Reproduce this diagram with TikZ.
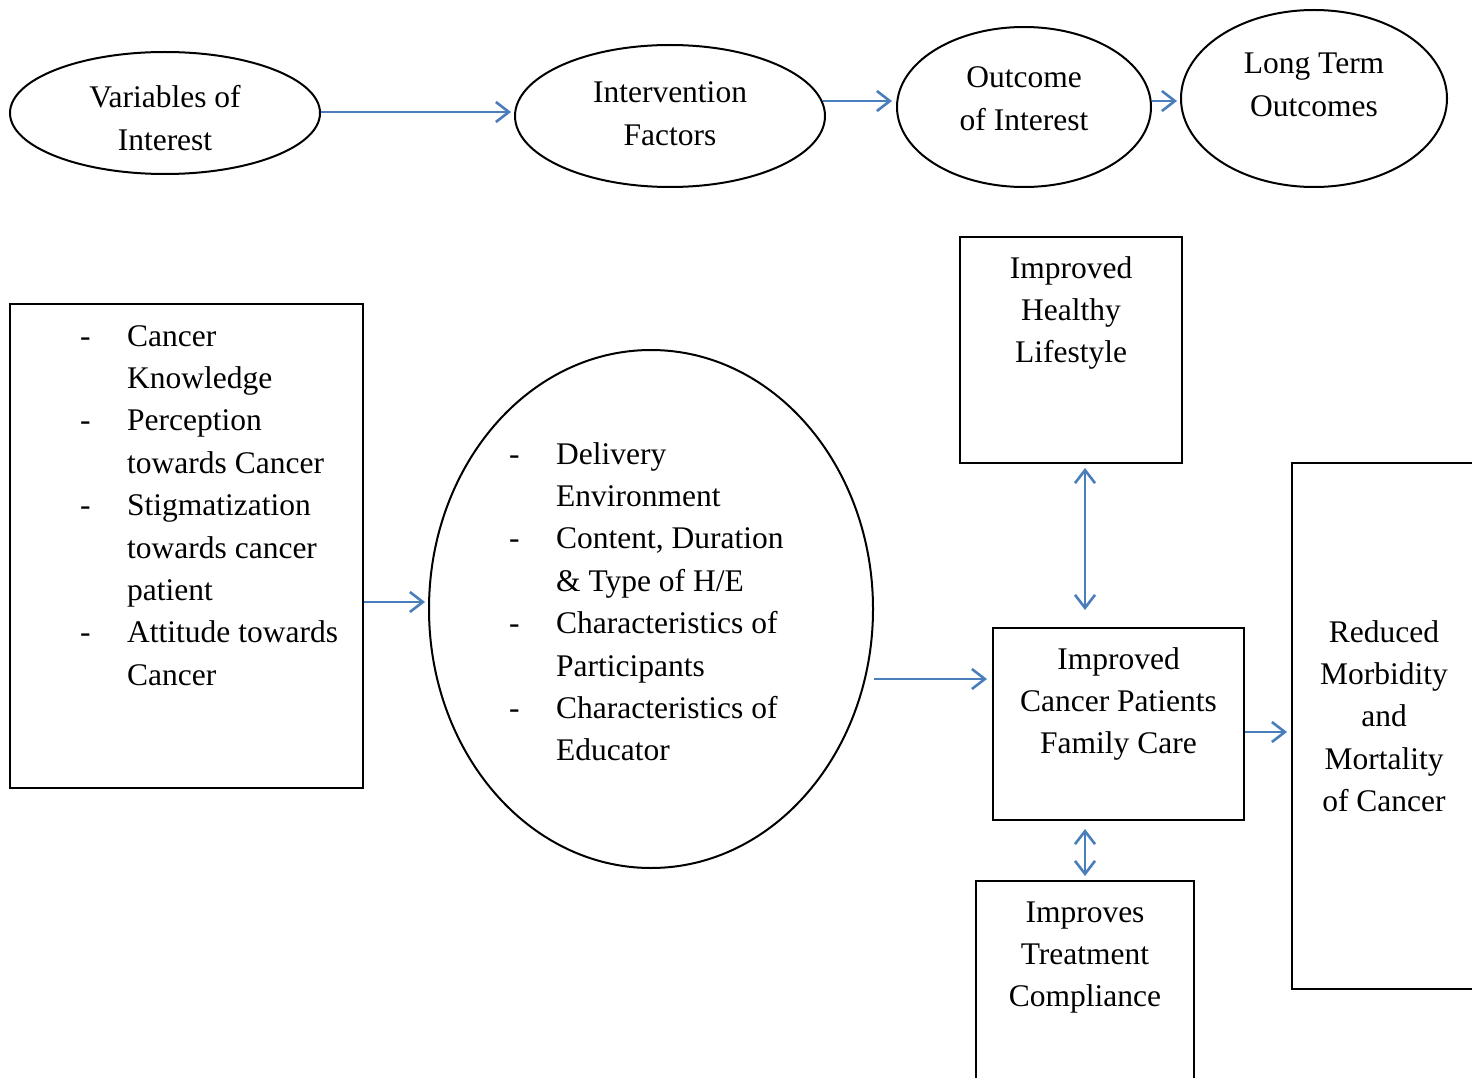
\documentclass[tikz,border=0pt]{standalone}
\usepackage{fontspec}
\setmainfont{Liberation Serif}
\usetikzlibrary{arrows.meta,shapes.geometric}
\definecolor{arrowblue}{HTML}{4A7EBB}
\newcommand{\dfont}{\fontsize{31.5pt}{42.4pt}\selectfont}
\newcommand{\dsh}{\makebox[47pt][l]{-}}
\newcommand{\ind}{\hspace*{47pt}}
\begin{document}
\begin{tikzpicture}[x=1pt,y=-1pt,
  oval/.style={ellipse, draw, line width=2pt, inner sep=0pt},
  frame/.style={rectangle, draw, line width=2pt, inner sep=0pt},
  lbl/.style={align=center, inner sep=0pt, anchor=base, font=\dfont},
  lst/.style={align=left, inner sep=0pt, anchor=base west, font=\dfont},
  link/.style={draw=arrowblue, line width=2.6pt, -{Straight Barb[length=13pt,width=20pt,line width=2.6pt]}},
  dlink/.style={draw=arrowblue, line width=2.6pt, {Straight Barb[length=13pt,width=20pt,line width=2.6pt]}-{Straight Barb[length=13pt,width=20pt,line width=2.6pt]}}
]
\useasboundingbox (0,0) rectangle (1472,1078);
% top row
\node[oval, minimum width=310pt, minimum height=122pt] (v) at (165,113) {};
\node[oval, minimum width=310pt, minimum height=142pt] (i) at (670,116) {};
\node[oval, minimum width=254pt, minimum height=160pt] (o) at (1024,107) {};
\node[oval, minimum width=266pt, minimum height=177pt] (l) at (1314,98.5) {};
\node[lbl] (tv) at (165,150.4) {Variables of\\Interest};
\node[lbl] (ti) at (670,145.4) {Intervention\\Factors};
\node[lbl] (to) at (1024,130.4) {Outcome\\of Interest};
\node[lbl] (tl) at (1314,116.4) {Long Term\\Outcomes};
\draw[link, shorten >=3pt] ([yshift=1pt]v.east) -- ([yshift=1pt]v.east -| i.west);
\draw[link, shorten <=-3pt, shorten >=4pt] ([yshift=15pt]i.east) -- ([yshift=15pt]i.east -| o.west);
\draw[link, shorten >=3pt] ([yshift=6pt]o.east) -- ([yshift=6pt]o.east -| l.west);
% left box
\node[frame, minimum width=353pt, minimum height=484pt] (k) at (186.5,546) {};
\node[lst] (tk) at (80,685.2) {\dsh Cancer\\ \ind Knowledge\\ \dsh Perception\\ \ind towards Cancer\\ \dsh Stigmatization\\ \ind towards cancer\\ \ind patient\\ \dsh Attitude towards\\ \ind Cancer};
% big ellipse
\node[oval, minimum width=444pt, minimum height=518pt] (e) at (651,609) {};
\node[lst] (te) at (509,760.8) {\dsh Delivery\\ \ind Environment\\ \dsh Content, Duration\\ \ind \& Type of H/E\\ \dsh Characteristics of\\ \ind Participants\\ \dsh Characteristics of\\ \ind Educator};
\draw[link, shorten >=3pt] ([yshift=-56pt]k.east) -- ([yshift=-56pt]k.east -| e.west);
% right-side boxes
\node[frame, minimum width=222pt, minimum height=226pt] (h) at (1071,350) {};
\node[lbl] (th) at (1071,362.8) {Improved\\Healthy\\Lifestyle};
\node[frame, minimum width=251pt, minimum height=192pt] (f) at (1118.5,724) {};
\node[lbl] (tf) at (1118.5,753.8) {Improved\\Cancer Patients\\Family Care};
\node[frame, minimum width=218pt, minimum height=320pt] (t) at (1085,1041) {};
\node[lbl] (tt) at (1085,1006.8) {Improves\\Treatment\\Compliance};
\node[frame, minimum width=320pt, minimum height=526pt] (r) at (1452,726) {};
\node[lbl] (tr) at (1384,811.6) {Reduced\\Morbidity\\and\\Mortality\\of Cancer};
\draw[link, shorten >=5pt] ([yshift=-70pt]e.east) -- ([yshift=-70pt]e.east -| f.west);
\draw[dlink, shorten <=4pt, shorten >=17pt] ([xshift=14pt]h.south) -- ([xshift=14pt]h.south |- f.north);
\draw[dlink, shorten <=4pt, shorten >=8pt] (t.north) -- (t.north |- f.south);
\draw[link, shorten >=4pt] ([yshift=-8pt]f.east) -- ([yshift=-8pt]f.east -| r.west);
\end{tikzpicture}
\end{document}
